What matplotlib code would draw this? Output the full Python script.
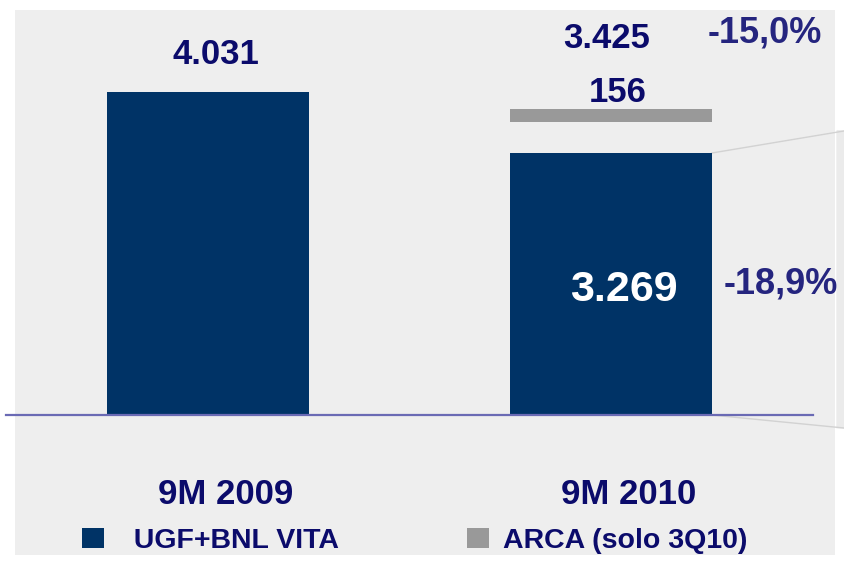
import matplotlib
matplotlib.use('Agg')
import matplotlib.pyplot as plt
from matplotlib.patches import Patch

#DATA
################################################################################
periods = ['9M 2009', '9M 2010']
ugf_bnl = [4031, 3269]
arca = [0, 156]
totals = ['4.031', '3.425']
inner_labels = ['', '3.269']
arca_labels = ['', '156']
delta_total = '-15,0%'
delta_ugf = '-18,9%'
series_names = ['  UGF+BNL VITA', 'ARCA (solo 3Q10)']

NAVY = '#003366'
GREY = '#999999'
TXT = '#0b0b6b'
PCT = '#25257f'
GAP = 390  #empty space between the two stacked pieces

plt.rcParams['font.family'] = ['Liberation Sans', 'DejaVu Sans']
plt.rcParams['font.weight'] = 'bold'

fig = plt.figure(figsize=(8.44, 5.65), dpi=100)
fig.patch.set_facecolor('white')
ax = fig.add_axes([15/844, 10/565, 820/844, 545/565])
ax.set_facecolor('#eeeeee')
for s in ax.spines.values():
    s.set_visible(False)
ax.set_xticks([])
ax.set_yticks([])

x = list(range(len(periods)))
ax.bar(x, ugf_bnl, width=0.5, color=NAVY, zorder=3)
bottoms = [u + GAP if a > 0 else 0 for u, a in zip(ugf_bnl, arca)]
ax.bar(x, arca, width=0.5, bottom=bottoms, color=GREY, zorder=3)

ax.set_xlim(-0.479, 1.556)
ax.set_ylim(-1747, 5054)

#baseline
ax.plot([-0.501, 1.501], [0, 0], color='#6a6ab4', lw=1.6, zorder=4, clip_on=False)

#connector lines towards the next chart
ax.plot([1.25, 1.578], [ugf_bnl[1], 3544], color='#d2d2d2', lw=1.0, clip_on=False)
ax.plot([1.25, 1.578], [0, -162], color='#d2d2d2', lw=1.0, clip_on=False)
ax.fill([1.561, 1.578, 1.578, 1.561], [3548, 3544, -162, -158],
        color='#ebebeb', clip_on=False, zorder=1)

#value labels
for i in x:
    top = ugf_bnl[i] + (arca[i] + GAP if arca[i] > 0 else 0)
    if i == 0:
        ax.annotate(totals[i], (i, top), xytext=(6, 27), textcoords='offset points',
                    ha='center', va='center', fontsize=25, color=TXT, fontweight='bold')
    else:
        ax.annotate(arca_labels[i], (i, top), xytext=(5, 12), textcoords='offset points',
                    ha='center', va='center', fontsize=25, color=TXT, fontweight='bold')
        ax.annotate(totals[i], (i, top), xytext=(-3, 51), textcoords='offset points',
                    ha='center', va='center', fontsize=25, color=TXT, fontweight='bold')
        ax.annotate(inner_labels[i], (i, ugf_bnl[i] / 2), xytext=(9, -4),
                    textcoords='offset points', ha='center', va='center',
                    fontsize=31, color='white', fontweight='bold', zorder=5)

ax.annotate(delta_total, (1, ugf_bnl[1] + arca[1] + GAP), xytext=(111, 55),
            textcoords='offset points', ha='center', va='center',
            fontsize=26, color=PCT, fontweight='bold')
ax.annotate(delta_ugf, (1, ugf_bnl[1] / 2), xytext=(122, 0),
            textcoords='offset points', ha='center', va='center',
            fontsize=26, color=PCT, fontweight='bold')

#category labels
for i in x:
    ax.annotate(periods[i], (i, 0), xytext=(13, -57), textcoords='offset points',
                ha='center', va='center', fontsize=25, color=TXT, fontweight='bold')

#legend
handles = [Patch(facecolor=NAVY, edgecolor='none'), Patch(facecolor=GREY, edgecolor='none')]
fig.legend(handles, series_names, loc='center left', bbox_to_anchor=(82/844, 24/565),
           ncol=2, frameon=False, fontsize=20.5, handlelength=0.77, handleheight=0.7,
           handletextpad=0.5, columnspacing=4.48, borderpad=0, borderaxespad=0,
           labelcolor=TXT)

fig.savefig('out.png', dpi=100)
